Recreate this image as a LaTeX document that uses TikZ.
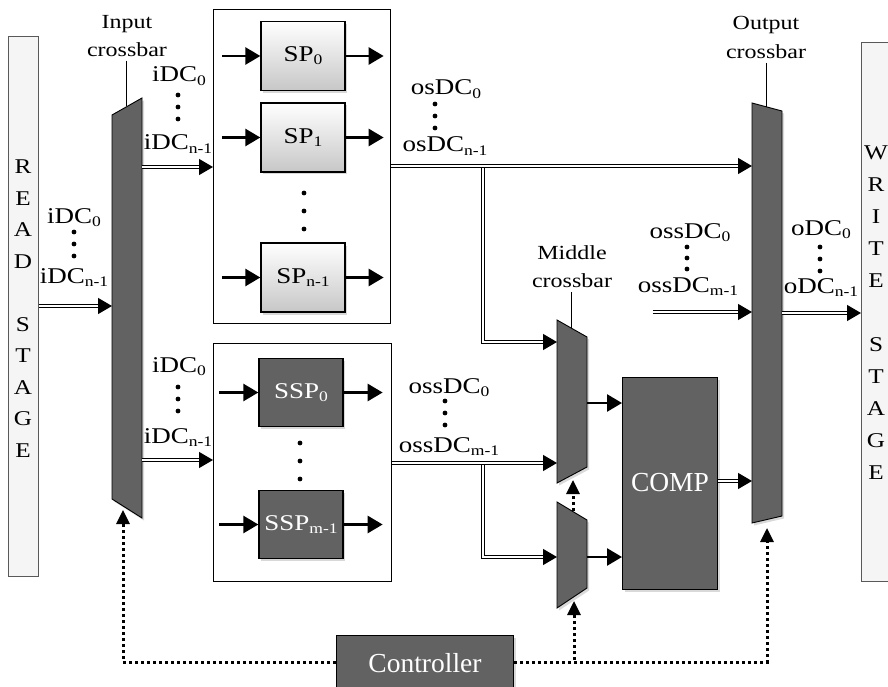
\documentclass[tikz,border=0pt]{standalone}
\usepackage{fontspec}
\setmainfont{Liberation Serif}[FakeStretch=1.2]
\newfontfamily\plainfont{Liberation Serif}
\usepackage{graphicx}
\usetikzlibrary{arrows.meta,shadows}

\definecolor{darkfill}{RGB}{98,98,98}
\definecolor{stagefill}{RGB}{244,245,244}

\newcommand{\lowidx}[1]{\raisebox{-0.3ex}{\scalebox{0.65}{#1}}}

\tikzset{
  lbl/.style={font=\fontsize{22.5}{24}\selectfont, inner sep=0, anchor=base},
  cblbl/.style={font=\fontsize{20}{24}\selectfont, inner sep=0, anchor=base},
  stagebox/.style={draw=black!65, line width=0.8, fill=stagefill, inner sep=0},
  stageletter/.style={font=\fontsize{21}{21}\selectfont, inner sep=0},
  softshadow/.style={drop shadow={opacity=0.3, shadow xshift=2pt, shadow yshift=-2.5pt}},
  spbox/.style={draw=black, line width=1.3, top color=white, bottom color=black!22,
    minimum width=84, minimum height=69, inner sep=0, softshadow,
    font=\fontsize{22.5}{24}\selectfont},
  sspbox/.style={draw=black, line width=1.3, fill=darkfill, text=white,
    minimum width=84, minimum height=68, inner sep=0, softshadow,
    font=\fontsize{22.5}{24}\selectfont},
  darkbox/.style={draw=black, line width=1.3, fill=darkfill, text=white, inner sep=0,
    softshadow, font=\plainfont\fontsize{27.5}{30}\selectfont},
  groupbox/.style={draw=black, line width=1.3, fill=white, inner sep=0},
  xbar/.style={draw=black, line width=0.9, fill=darkfill, softshadow},
  bus/.style={double, line width=1.2, double distance=1.6,
    -{Triangle[length=14pt,width=16pt]}},
  busline/.style={double, line width=1.2, double distance=1.6},
  sig/.style={line width=2.6, -{Triangle[length=15pt,width=17pt]}},
  ctl/.style={line width=3, dash pattern=on 3pt off 3pt,
    -{Triangle[length=14pt,width=13pt]}},
  ctlline/.style={line width=3, dash pattern=on 3pt off 3pt},
  pointer/.style={line width=1},
  dotmark/.style={circle, fill=black, inner sep=0, minimum size=4.8}
}

\begin{document}
\begin{tikzpicture}[x=1pt,y=-1pt]
\useasboundingbox (0,0) rectangle (888,687);

% ---------- stage boxes ----------
\node[stagebox, minimum width=30, minimum height=540, anchor=north west] (read) at (8,36) {};
\foreach \l [count=\i] in {R,E,A,D,{},S,T,A,G,E}
  \node[stageletter] (rd\i) at (23,135.5+31.5*\i) {\l};
\node[stagebox, minimum width=40, minimum height=539, anchor=north west] (write) at (861,42) {};
\foreach \l [count=\i] in {W,R,I,T,E,{},S,T,A,G,E}
  \node[stageletter] (wr\i) at (876,121+32*\i) {\l};

% ---------- group boxes ----------
\node[groupbox, minimum width=177, minimum height=314, anchor=north west] (spgrp) at (213,9) {};
\node[groupbox, minimum width=178, minimum height=238, anchor=north west] (sspgrp) at (213,343) {};

% ---------- SP boxes ----------
\node[spbox] (sp0) at (303,56) {SP\lowidx{0}};
\node[spbox] (sp1) at (303,137.5) {SP\lowidx{1}};
\node[spbox] (spn) at (303,277.5) {SP\lowidx{n-1}};
\node[sspbox] (ssp0) at (301,392.5) {SSP\lowidx{0}};
\node[sspbox] (sspm) at (301,524.5) {SSP\lowidx{m-1}};

\foreach \n in {sp0,sp1,spn} {
  \draw[sig] ([xshift=-38pt]\n.west) -- (\n.west);
  \draw[sig] (\n.east) -- ([xshift=38pt]\n.east);
}
\foreach \n in {ssp0,sspm} {
  \draw[sig] ([xshift=-39pt]\n.west) -- (\n.west);
  \draw[sig] (\n.east) -- ([xshift=39pt]\n.east);
}
\foreach \y in {193,211,229} \node[dotmark] (spd\y) at (304,\y) {};
\foreach \y in {443,461,479} \node[dotmark] (sspd\y) at (300,\y) {};

% ---------- crossbars ----------
\draw[xbar] (112,115) -- (142,98) -- (142,518) -- (112,499) -- cycle;
\draw[xbar] (752,103) -- (782,111) -- (782,516) -- (752,523) -- cycle;
\draw[xbar] (557,320) -- (587,337) -- (587,467) -- (557,483) -- cycle;
\draw[xbar] (557,502) -- (587,520) -- (587,588) -- (557,608) -- cycle;

\coordinate (icbin) at (112,306);
\coordinate (icbo1) at (142,167);
\coordinate (icbo2) at (142,460);
\coordinate (icbbot) at (123,510);
\coordinate (ocbin1) at (752,166);
\coordinate (ocbin2) at (752,312);
\coordinate (ocbin3) at (752,481);
\coordinate (ocbout) at (782,313);
\coordinate (ocbbot) at (767,528);
\coordinate (mcbin1) at (557,342);
\coordinate (mcbin2) at (557,463);
\coordinate (mcbout) at (587,403);
\coordinate (mcbbot) at (573,480);
\coordinate (lmxin) at (557,557);
\coordinate (lmxout) at (587,557);
\coordinate (lmxtop) at (573,511);
\coordinate (lmxbot) at (574,601);

% ---------- crossbar labels ----------
\node[cblbl] (icbl1) at (127,29) {Input};
\node[cblbl] (icbl2) at (127,57) {crossbar};
\draw[pointer] (126,61) -- (126,106);
\node[cblbl] (ocbl1) at (766,30) {Output};
\node[cblbl] (ocbl2) at (766,59) {crossbar};
\draw[pointer] (766,63) -- (766,107);
\node[cblbl] (mcbl1) at (572,259) {Middle};
\node[cblbl] (mcbl2) at (572,287) {crossbar};
\draw[pointer] (571,292) -- (571,328);

% ---------- COMP and controller ----------
\node[darkbox, minimum width=95, minimum height=212, anchor=north west] (comp) at (622,377) {};
\node[inner sep=0, text=white, font=\plainfont\fontsize{27.5}{30}\selectfont] (comptxt) at (670,483) {COMP};
\node[darkbox, minimum width=177, minimum height=60, anchor=north west] (ctrl) at (336,635) {};
\node[inner sep=0, text=white, font=\plainfont\fontsize{27.5}{30}\selectfont] (ctrltxt) at (425,663) {Controller};

% ---------- buses ----------
\draw[bus] (read.east |- icbin) -- (icbin);
\draw[bus] (icbo1) -- (spgrp.west |- icbo1);
\draw[bus] (icbo2) -- (sspgrp.west |- icbo2);
\draw[busline] (483,166) -- (483,342) -- ([xshift=-14pt]mcbin1);
\draw[bus] ([xshift=-15pt]mcbin1) -- (mcbin1);
\draw[busline] (483,463) -- (483,557) -- ([xshift=-14pt]lmxin);
\draw[bus] ([xshift=-15pt]lmxin) -- (lmxin);
\draw[bus] (spgrp.east |- ocbin1) -- (ocbin1);
\draw[bus] (sspgrp.east |- mcbin2) -- (mcbin2);
\draw[bus] (653,312) -- (ocbin2);
\draw[bus] (ocbout) -- (write.west |- ocbout);
\draw[bus] (comp.east |- ocbin3) -- (ocbin3);

% ---------- mux outputs ----------
\draw[sig] (mcbout) -- (comp.west |- mcbout);
\draw[sig] (lmxout) -- (comp.west |- lmxout);

% ---------- control ----------
\draw[ctl] ([yshift=3.5pt]ctrl.west) -| (icbbot);
\draw[ctl] ([yshift=3.5pt]ctrl.east) -| (ocbbot);
\draw[ctl] (lmxbot |- 0,660) -- (lmxbot);
\draw[ctl] (lmxtop) -- (mcbbot);

% ---------- data labels ----------
\node[lbl] (l1a) at (74,223) {iDC\lowidx{0}};
\node[lbl] (l1b) at (74,283) {iDC\lowidx{n-1}};
\foreach \y in {232,244,256} \node[dotmark] (l1d\y) at (74,\y) {};

\node[lbl] (l2a) at (179,82) {iDC\lowidx{0}};
\node[lbl] (l2b) at (178,150) {iDC\lowidx{n-1}};
\foreach \y in {95,107,119} \node[dotmark] (l2d\y) at (178,\y) {};

\node[lbl] (l3a) at (179,372) {iDC\lowidx{0}};
\node[lbl] (l3b) at (178,443) {iDC\lowidx{n-1}};
\foreach \y in {387,399,411} \node[dotmark] (l3d\y) at (178,\y) {};

\node[lbl] (l4a) at (446,95) {osDC\lowidx{0}};
\node[lbl] (l4b) at (445,152) {osDC\lowidx{n-1}};
\foreach \y in {104,116,128} \node[dotmark] (l4d\y) at (435,\y) {};

\node[lbl] (l5a) at (449,393) {ossDC\lowidx{0}};
\node[lbl] (l5b) at (449,452) {ossDC\lowidx{m-1}};
\foreach \y in {401,413,425} \node[dotmark] (l5d\y) at (445,\y) {};

\node[lbl] (l6a) at (690,238) {ossDC\lowidx{0}};
\node[lbl] (l6b) at (688,292) {ossDC\lowidx{m-1}};
\foreach \y in {247,258,269} \node[dotmark] (l6d\y) at (687,\y) {};

\node[lbl] (l7a) at (821,235) {oDC\lowidx{0}};
\node[lbl] (l7b) at (821,293) {oDC\lowidx{n-1}};
\foreach \y in {247,259,271} \node[dotmark] (l7d\y) at (820,\y) {};

\end{tikzpicture}
\end{document}
